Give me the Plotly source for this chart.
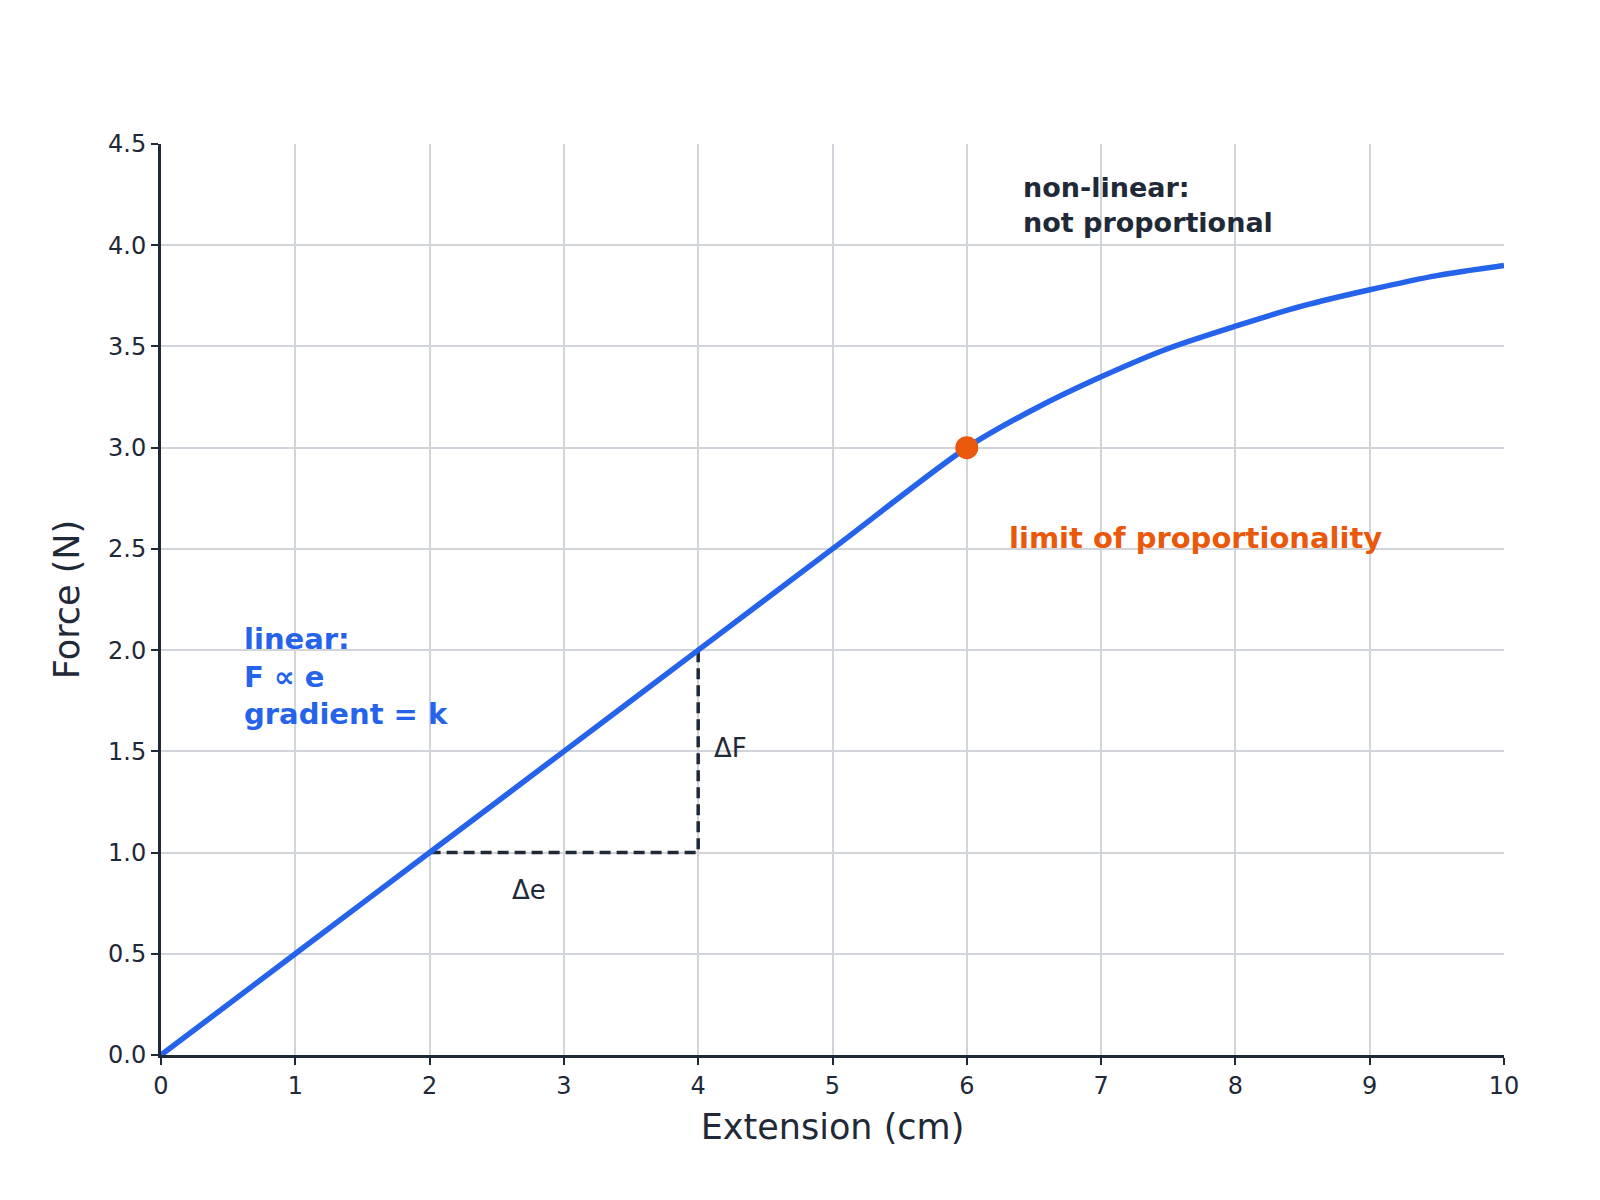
import plotly.graph_objects as go

ext = [0, 1, 2, 3, 4, 5, 6, 6.5, 7, 7.5, 8, 8.5, 9, 9.5, 10]
force = [0, 0.5, 1.0, 1.5, 2.0, 2.5, 3.0, 3.19, 3.35, 3.49, 3.60, 3.70, 3.78, 3.85, 3.90]
limit_e, limit_f = [6], [3.0]
tri_e = [2, 4, 4]
tri_f = [1.0, 1.0, 2.0]

BLUE = "#2563eb"; ORANGE = "#ea580c"; DARK = "#1f2937"
fig = go.Figure()
fig.add_trace(go.Scatter(x=tri_e, y=tri_f, mode="lines",
                         line=dict(color=DARK, width=3.5, dash="11px,6px"), hoverinfo="skip"))
fig.add_trace(go.Scatter(x=ext, y=force, mode="lines",
                         line=dict(color=BLUE, width=5.5, shape="spline", smoothing=0.8)))
fig.add_trace(go.Scatter(x=limit_e, y=limit_f, mode="markers",
                         marker=dict(color=ORANGE, size=23)))

ann = [
    dict(x=0.6, y=2.15, text="<b>linear:<br>F ∝ e<br>gradient = k</b>", color=BLUE, size=29),
    dict(x=6.4, y=4.37, text="<b>non-linear:<br>not proportional</b>", color=DARK, size=27),
    dict(x=6.3, y=2.65, text="<b>limit of proportionality</b>", color=ORANGE, size=29),
    dict(x=4.1, y=1.6, text="ΔF", color=DARK, size=26),
    dict(x=2.6, y=0.9, text="Δe", color=DARK, size=26),
]
for a in ann:
    fig.add_annotation(x=a["x"], y=a["y"], text=a["text"], showarrow=False,
                       xanchor="left", yanchor="top", align="left",
                       font=dict(color=a["color"], size=a["size"], family="DejaVu Sans"))

axis = dict(showgrid=True, gridcolor="#d1d5db", gridwidth=1.5, showline=True,
            linecolor=DARK, linewidth=3, ticks="outside", tickcolor=DARK,
            ticklen=7, tickwidth=2, tickfont=dict(size=24, color=DARK),
            zeroline=False, mirror=False)
fig.update_layout(
    width=1600, height=1200, showlegend=False,
    plot_bgcolor="white", paper_bgcolor="white",
    font=dict(family="DejaVu Sans", color=DARK),
    margin=dict(l=153, r=104, t=136, b=153),
    xaxis=dict(axis, range=[0, 10], dtick=1,
               title=dict(text="Extension (cm)", font=dict(size=35, color=DARK), standoff=16)),
    yaxis=dict(axis, range=[0, 4.5], dtick=0.5, tickformat=".1f",
               title=dict(text="Force (N)", font=dict(size=35, color=DARK), standoff=18)),
)
fig.write_html("out.html")
